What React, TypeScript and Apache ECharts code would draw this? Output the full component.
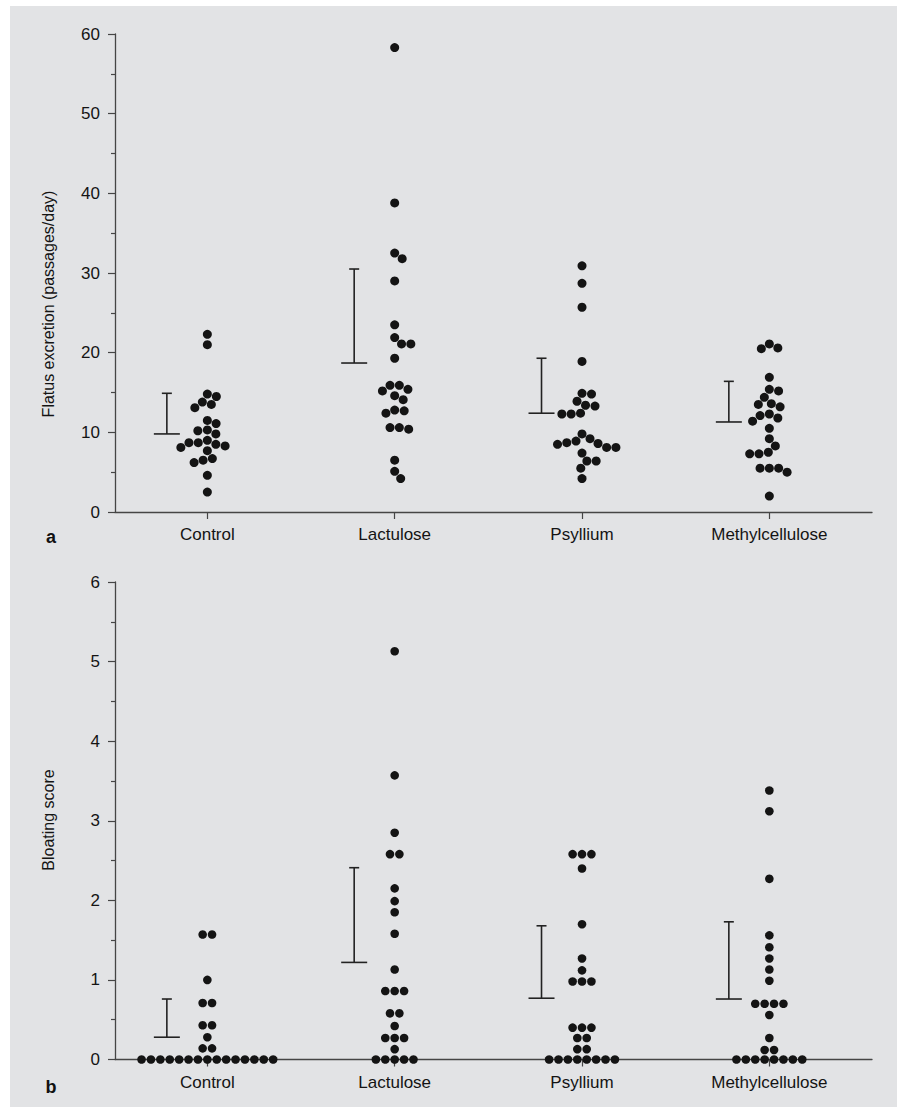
import React, { useEffect, useRef } from "react";
import * as echarts from "echarts";

// ---------- data ----------
const categories = ["Control", "Lactulose", "Psyllium", "Methylcellulose"];

// panel a: flatus excretion (passages/day)
const flatusControl = [22.3, 21.0, 14.8, 14.5, 13.8, 13.5, 13.1, 11.5, 11.1, 10.3, 10.2, 9.8, 9.0, 8.7, 8.7, 8.5, 8.3, 8.1, 7.7, 6.7, 6.5, 6.2, 4.6, 2.5];
const flatusLactulose = [58.3, 38.8, 32.5, 31.8, 29.0, 23.5, 21.9, 21.1, 21.1, 19.3, 15.9, 15.9, 15.4, 15.2, 14.6, 14.1, 12.8, 12.7, 12.4, 10.6, 10.6, 10.4, 6.5, 5.1, 4.2];
const flatusPsyllium = [30.9, 28.7, 25.7, 18.9, 14.9, 14.8, 13.9, 13.4, 13.3, 12.4, 12.3, 12.3, 9.8, 9.2, 8.9, 8.7, 8.6, 8.5, 8.1, 8.1, 7.4, 6.4, 6.4, 5.5, 4.2];
const flatusMethyl = [21.1, 20.6, 20.5, 16.9, 15.4, 15.2, 14.4, 13.6, 13.5, 13.2, 12.3, 12.1, 11.8, 11.4, 10.5, 9.2, 8.3, 7.5, 7.3, 7.3, 5.5, 5.5, 5.5, 5.0, 2.0];
const flatusBarLow = [9.8, 18.7, 12.4, 11.3];
const flatusBarHigh = [14.9, 30.5, 19.3, 16.4];

// panel b: bloating score
const bloatControl = [1.57, 1.57, 1.0, 0.71, 0.71, 0.43, 0.43, 0.28, 0.14, 0.14, 0, 0, 0, 0, 0, 0, 0, 0, 0, 0, 0, 0, 0, 0, 0];
const bloatLactulose = [5.13, 3.57, 2.85, 2.58, 2.58, 2.15, 1.99, 1.85, 1.58, 1.13, 0.86, 0.86, 0.86, 0.58, 0.58, 0.42, 0.27, 0.27, 0.27, 0.13, 0, 0, 0, 0, 0];
const bloatPsyllium = [2.58, 2.58, 2.58, 2.4, 1.7, 1.27, 1.12, 0.98, 0.98, 0.98, 0.4, 0.4, 0.4, 0.27, 0.27, 0.13, 0.13, 0, 0, 0, 0, 0, 0, 0, 0];
const bloatMethyl = [3.38, 3.12, 2.27, 1.56, 1.41, 1.27, 1.13, 0.99, 0.7, 0.7, 0.7, 0.7, 0.56, 0.27, 0.12, 0.12, 0, 0, 0, 0, 0, 0, 0, 0];
const bloatBarLow = [0.28, 1.22, 0.77, 0.76];
const bloatBarHigh = [0.76, 2.41, 1.68, 1.73];

const flatusTicks = { min: 0, max: 60, interval: 10 };
const bloatTicks = { min: 0, max: 6, interval: 1 };
const flatusName = "Flatus excretion (passages/day)";
const bloatName = "Bloating score";

// ---------- layout ----------
const FONT = '"Liberation Sans", Arial, Helvetica, sans-serif';
const X_MIN = 0.507;
const X_MAX = 4.548;
const GRID_LEFT = 115;
const GRID_W = 757;
const GA_TOP = 34;
const GA_H = 478;
const GB_TOP = 582;
const GB_H = 477.5;
const PX_X = GRID_W / (X_MAX - X_MIN);
const BAR_OFFSET = -40.5 / PX_X;
const INK = "#141414";
const AXIS = "#454545";

// simple beeswarm: identical values form centred rows, others are pushed sideways
function swarm(vals: number[], cat: number, pxPerY: number, d: number): number[][] {
  const sorted = [...vals].sort((a, b) => b - a);
  const placed: { px: number; py: number }[] = [];
  const out: number[][] = [];
  let i = 0;
  while (i < sorted.length) {
    let j = i;
    while (j < sorted.length && Math.abs(sorted[j] - sorted[i]) < 1e-9) j++;
    const n = j - i;
    const v = sorted[i];
    const py = v * pxPerY;
    let best = 0;
    for (let k = 0; k < 4000; k++) {
      const c = (k % 2 === 1 ? 1 : -1) * Math.ceil(k / 2) * 0.25;
      let ok = true;
      for (let m = 0; m < n && ok; m++) {
        const x = c + (m - (n - 1) / 2) * d;
        for (const p of placed) {
          if (Math.hypot(p.px - x, p.py - py) < d - 0.01) {
            ok = false;
            break;
          }
        }
      }
      if (ok) {
        best = c;
        break;
      }
    }
    for (let m = 0; m < n; m++) {
      const x = best + (m - (n - 1) / 2) * d;
      placed.push({ px: x, py });
      out.push([cat + x / PX_X, v]);
    }
    i = j;
  }
  return out;
}

export default function App() {
  const ref = useRef<HTMLDivElement>(null);

  useEffect(() => {
    if (!ref.current) return;
    const chart = echarts.init(ref.current, undefined, { renderer: "svg" });

    const pxA = GA_H / (flatusTicks.max - flatusTicks.min);
    const pxB = GB_H / (bloatTicks.max - bloatTicks.min);
    const flatusGroups = [flatusControl, flatusLactulose, flatusPsyllium, flatusMethyl];
    const bloatGroups = [bloatControl, bloatLactulose, bloatPsyllium, bloatMethyl];
    const dotsA = flatusGroups.flatMap((g, k) => swarm(g, k + 1, pxA, 9.3));
    const dotsB = bloatGroups.flatMap((g, k) => swarm(g, k + 1, pxB, 9.4));

    const barsA = categories.map((_, k) => [k + 1, flatusBarLow[k], flatusBarHigh[k]]);
    const barsB = categories.map((_, k) => [k + 1, bloatBarLow[k], bloatBarHigh[k]]);

    const renderBar = (params: any, api: any) => {
      const x = api.value(0) + BAR_OFFSET;
      const lo = api.coord([x, api.value(1)]);
      const hi = api.coord([x, api.value(2)]);
      const style = { stroke: "#222", lineWidth: 1.6 };
      return {
        type: "group",
        children: [
          { type: "line", shape: { x1: lo[0], y1: lo[1], x2: hi[0], y2: hi[1] }, style },
          { type: "line", shape: { x1: lo[0] - 13, y1: lo[1], x2: lo[0] + 13, y2: lo[1] }, style },
          { type: "line", shape: { x1: hi[0] - 5, y1: hi[1], x2: hi[0] + 5, y2: hi[1] }, style },
        ],
      };
    };

    const xAxisFor = (gi: number) => ({
      type: "value",
      gridIndex: gi,
      min: X_MIN,
      max: X_MAX,
      axisLine: { show: true, onZero: true, lineStyle: { color: AXIS, width: 1.3 } },
      axisTick: { show: true, customValues: [1, 2, 3, 4], length: 7, lineStyle: { color: AXIS, width: 1.2 } },
      axisLabel: {
        customValues: [1, 2, 3, 4],
        formatter: (v: number) => categories[Math.round(v) - 1] ?? "",
        fontSize: 17,
        fontFamily: FONT,
        color: INK,
        margin: 14,
      },
      splitLine: { show: false },
    });

    const yAxisFor = (gi: number, t: { min: number; max: number; interval: number }) => ({
      type: "value",
      gridIndex: gi,
      min: t.min,
      max: t.max,
      interval: t.interval,
      axisLine: { show: true, lineStyle: { color: AXIS, width: 1.3 } },
      axisTick: { show: true, length: 7, lineStyle: { color: AXIS, width: 1.2 } },
      minorTick: { show: true, splitNumber: 2, length: 4, lineStyle: { color: AXIS, width: 1.2 } },
      axisLabel: { fontSize: 17, fontFamily: FONT, color: INK, margin: 15 },
      splitLine: { show: false },
      minorSplitLine: { show: false },
    });

    const letterStyle = { align: "center", verticalAlign: "middle", fontSize: 18, fontWeight: "bold", fontFamily: FONT, fill: "#111" };
    const nameStyle = { align: "center", verticalAlign: "middle", fontSize: 16, fontFamily: FONT, fill: INK };

    chart.setOption({
      animation: false,
      backgroundColor: "transparent",
      grid: [
        { left: GRID_LEFT, top: GA_TOP, width: GRID_W, height: GA_H },
        { left: GRID_LEFT, top: GB_TOP, width: GRID_W, height: GB_H },
      ],
      xAxis: [xAxisFor(0), xAxisFor(1)],
      yAxis: [yAxisFor(0, flatusTicks), yAxisFor(1, bloatTicks)],
      graphic: [
        { type: "text", x: 51, y: 537, style: { ...letterStyle, text: "a" } },
        { type: "text", x: 51, y: 1087, style: { ...letterStyle, text: "b" } },
        { type: "text", x: 48, y: 304, rotation: Math.PI / 2, style: { ...nameStyle, text: flatusName } },
        { type: "text", x: 48, y: 820, rotation: Math.PI / 2, style: { ...nameStyle, text: bloatName } },
      ],
      series: [
        { type: "custom", xAxisIndex: 0, yAxisIndex: 0, renderItem: renderBar, data: barsA, clip: false, z: 3 },
        { type: "custom", xAxisIndex: 1, yAxisIndex: 1, renderItem: renderBar, data: barsB, clip: false, z: 3 },
        {
          type: "scatter",
          xAxisIndex: 0,
          yAxisIndex: 0,
          data: dotsA,
          symbol: "circle",
          symbolSize: 9,
          itemStyle: { color: INK, opacity: 1 },
          clip: false,
          z: 4,
        },
        {
          type: "scatter",
          xAxisIndex: 1,
          yAxisIndex: 1,
          data: dotsB,
          symbol: "circle",
          symbolSize: 8.6,
          itemStyle: { color: INK, opacity: 1 },
          clip: false,
          z: 4,
        },
      ],
    });

    return () => chart.dispose();
  }, []);

  return (
    <div style={{ position: "absolute", left: 0, top: 0, width: 907, height: 1113, background: "#ffffff" }}>
      <div style={{ position: "absolute", left: 10, top: 6, width: 887, height: 1101, background: "#e2e3e5" }} />
      <div ref={ref} style={{ position: "absolute", left: 0, top: 0, width: 907, height: 1113 }} />
    </div>
  );
}
